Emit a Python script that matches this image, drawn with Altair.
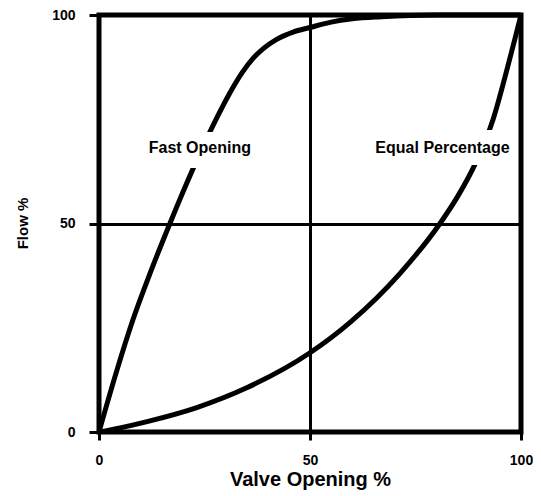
import altair as alt
import pandas as pd

# Fast Opening curve (valve opening %, flow %)
fast_x = [0, 4, 8, 12, 16.8, 20, 24, 28, 31, 34, 36.5, 39, 42, 46, 50, 55, 60, 67, 80, 100]
fast_y = [0, 14, 26.8, 37.8, 50, 57.8, 67, 75.5, 81.3, 86.3, 89.6, 92, 94.1, 95.9, 97, 98.3, 99.1, 99.6, 100, 100]

# Equal Percentage curve
eq_x = [0, 5, 11.4, 23, 35, 50, 59.5, 71.3, 80.8, 85, 89, 93.4, 96.7, 99, 100]
eq_y = [0, 1.0, 2.5, 5.8, 10.6, 19, 26.3, 38, 50, 56.5, 64, 75, 87, 96, 100]

label_text = ["Fast Opening", "Equal Percentage"]
label_x = [23.9, 81.4]
label_y = [66.8, 66.8]

tick_values = [0, 50, 100]

rows = []
for x, y in zip(fast_x, fast_y):
    rows.append({"series": "Fast Opening", "x": x, "y": y})
for x, y in zip(eq_x, eq_y):
    rows.append({"series": "Equal Percentage", "x": x, "y": y})
curves = pd.DataFrame(rows)
labels = pd.DataFrame({"text": label_text, "x": label_x, "y": label_y})
frame = pd.DataFrame({"x0": [0], "x1": [100], "y0": [0], "y1": [100]})

FONT = "Liberation Sans"

xscale = alt.Scale(domain=[0, 100], nice=False)
yscale = alt.Scale(domain=[0, 100], nice=False)

xaxis = alt.Axis(
    values=tick_values, title="Valve Opening %", grid=True, gridColor="black",
    gridWidth=3, gridOpacity=1, domain=False, ticks=True, tickSize=8, tickWidth=3,
    tickColor="black", labelFont=FONT, labelFontSize=14, labelFontWeight="bold",
    labelColor="black", labelPadding=13, titleFont=FONT, titleFontSize=20,
    titleFontWeight="bold", titleColor="black", titleY=47, titleBaseline="middle",
    labelFlush=False,
)
yaxis = alt.Axis(
    values=tick_values, title="Flow %", grid=True, gridColor="black",
    gridWidth=3, gridOpacity=1, domain=False, ticks=True, tickSize=10, tickWidth=3,
    tickColor="black", labelFont=FONT, labelFontSize=14, labelFontWeight="bold",
    labelColor="black", labelPadding=14, titleFont=FONT, titleFontSize=15,
    titleFontWeight="bold", titleColor="black", titleX=-77, titleY=208,
    titleBaseline="middle", titleAngle=270, labelFlush=False,
)

lines = alt.Chart(curves).mark_line(strokeWidth=5, color="black", interpolate="monotone").encode(
    x=alt.X("x:Q", scale=xscale, axis=xaxis),
    y=alt.Y("y:Q", scale=yscale, axis=yaxis),
    detail="series:N",
    order="x:Q",
)

border = alt.Chart(frame).mark_rect(filled=False, stroke="black", strokeWidth=5).encode(
    x=alt.X("x0:Q", scale=xscale),
    x2="x1:Q",
    y=alt.Y("y0:Q", scale=yscale),
    y2="y1:Q",
)

halo = alt.Chart(labels).mark_text(
    font=FONT, fontSize=16, fontWeight="bold", color="white", stroke="white",
    strokeWidth=24, align="center", baseline="alphabetic"
).encode(
    x=alt.X("x:Q", scale=xscale),
    y=alt.Y("y:Q", scale=yscale),
    text="text:N",
)

texts = alt.Chart(labels).mark_text(
    font=FONT, fontSize=16, fontWeight="bold", color="black", align="center", baseline="alphabetic"
).encode(
    x=alt.X("x:Q", scale=xscale),
    y=alt.Y("y:Q", scale=yscale),
    text="text:N",
)

chart = alt.layer(lines, halo, texts, border).properties(
    width=422, height=417,
    autosize=alt.AutoSizeParams(type="none"),
    padding={"left": 91, "top": 7, "right": 12, "bottom": 62},
).configure_view(stroke="transparent").configure(background="white")

chart.save("out.html", embed_options={"renderer": "svg", "actions": False})
